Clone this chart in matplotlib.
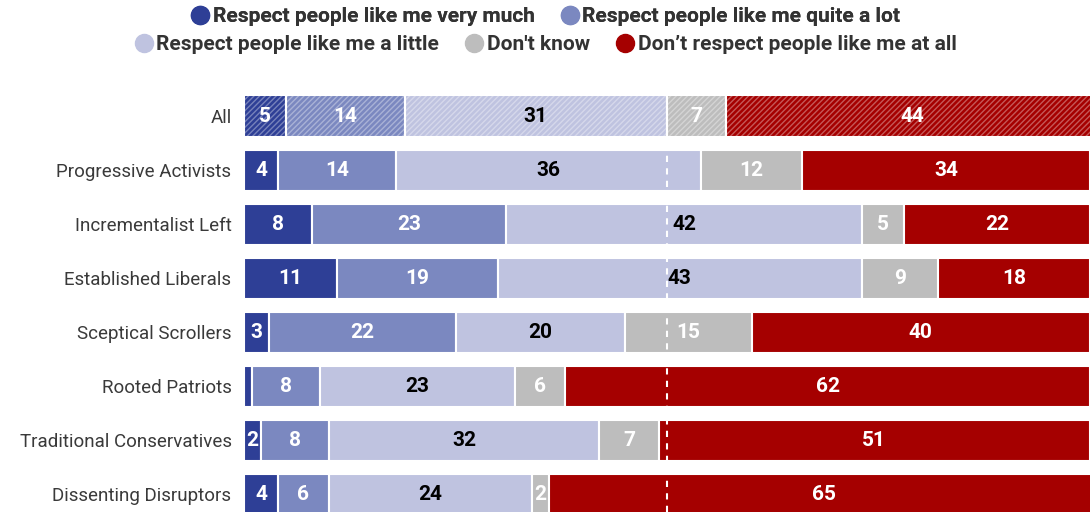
import matplotlib
matplotlib.use("Agg")
import matplotlib.pyplot as plt
from matplotlib.lines import Line2D
import numpy as np

plt.rcParams['font.family'] = ['Roboto', 'DejaVu Sans']

# data
groups = ["All", "Progressive Activists", "Incrementalist Left", "Established Liberals",
          "Sceptical Scrollers", "Rooted Patriots", "Traditional Conservatives",
          "Dissenting Disruptors"]
very_much = [5, 4, 8, 11, 3, 1, 2, 4]
quite_a_lot = [14, 14, 23, 19, 22, 8, 8, 6]
a_little = [31, 36, 42, 43, 20, 23, 32, 24]
dont_know = [7, 12, 5, 9, 15, 6, 7, 2]
not_at_all = [44, 34, 22, 18, 40, 62, 51, 65]

series_names = ["Respect people like me very much", "Respect people like me quite a lot",
                "Respect people like me a little", "Don't know",
                "Don\u2019t respect people like me at all"]
series = [very_much, quite_a_lot, a_little, dont_know, not_at_all]
colors = ["#2e3f96", "#7b88c0", "#bfc3e0", "#bdbdbd", "#a50000"]
text_colors = ["white", "white", "black", "white", "white"]

fig = plt.figure(figsize=(10.9, 5.12), dpi=100)
ax = fig.add_axes([244 / 1090, 0, 846 / 1090, 1 - 89 / 512])

y = np.arange(len(groups))
h = 0.76
left = np.zeros(len(groups))
plt.rcParams['hatch.linewidth'] = 1.0
for vals, col, tc in zip(series, colors, text_colors):
    vals = np.array(vals, dtype=float)
    for i in range(len(groups)):
        if i == 0:
            # the "All" row is hatched
            ax.barh(y[i], vals[i], left=left[i], height=h, color=col,
                    edgecolor=(1, 1, 1, 0.35), hatch='//////', linewidth=0)
            ax.barh(y[i], vals[i], left=left[i], height=h, fill=False,
                    edgecolor='white', linewidth=1.5)
        else:
            ax.barh(y[i], vals[i], left=left[i], height=h, color=col,
                    edgecolor='white', linewidth=1.5)
        if vals[i] >= 2:
            ax.text(left[i] + vals[i] / 2, y[i], f"{int(vals[i])}", ha='center',
                    va='center', color=tc, fontsize=15, fontweight='bold')
    left += vals

ax.axvline(50, color='white', linestyle=(0, (3, 3)), linewidth=1.5)

ax.set_xlim(0, 100)
ax.set_ylim(7.33, -0.5)
ax.set_yticks(y)
ax.set_yticklabels(groups, fontsize=13.5, color='#3a3a3a')
ax.tick_params(axis='y', length=0, pad=9)
ax.set_xticks([])
for s in ax.spines.values():
    s.set_visible(False)

handles = [Line2D([], [], marker='o', linestyle='none', markersize=13,
                  markerfacecolor=c, markeredgecolor=c) for c in colors]
leg_kw = dict(frameon=False, handletextpad=0.1, columnspacing=1.2,
              prop={'size': 15, 'weight': 'bold'}, labelcolor='#333333',
              handlelength=1.0)
leg1 = fig.legend(handles[:2], series_names[:2], ncol=2, loc='center',
                  bbox_to_anchor=(545 / 1090, 1 - 17 / 512), **leg_kw)
fig.add_artist(leg1)
fig.legend(handles[2:], series_names[2:], ncol=3, loc='center',
           bbox_to_anchor=(545 / 1090, 1 - 45 / 512), **leg_kw)

fig.savefig("out.png", dpi=100)
